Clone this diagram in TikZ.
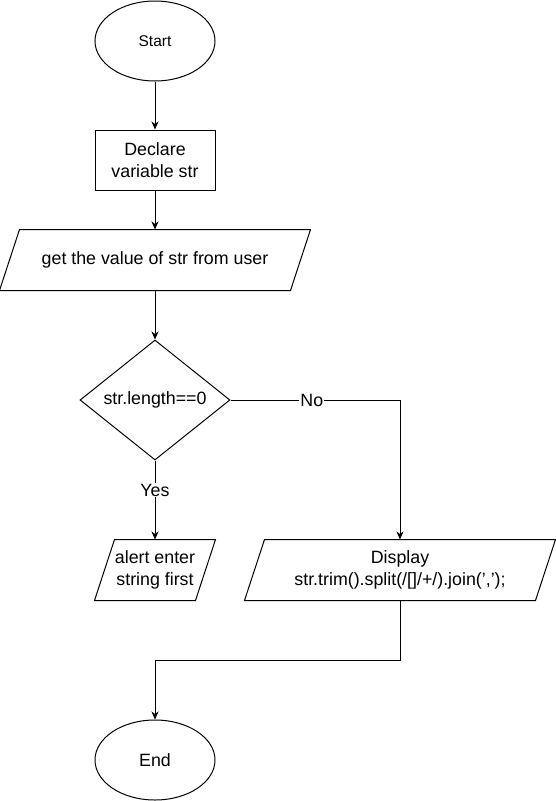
\documentclass[tikz,border=0pt]{standalone}
\usepackage{fontspec}
\setmainfont{Liberation Sans}
\usetikzlibrary{shapes.geometric,arrows.meta,calc}
\tikzset{
  base/.style={draw=black, line width=1pt, align=center, inner sep=0pt, font=\fontsize{17.8}{22.5}\selectfont},
  term/.style={base, ellipse, minimum width=120pt, minimum height=80pt},
  proc/.style={base, rectangle, minimum width=120pt, minimum height=60pt},
  dec/.style={base, diamond, aspect=1.25, minimum width=150pt, minimum height=120pt},
  io/.style={base, draw=none, rectangle},
  arr/.style={line width=1pt, -{Stealth[length=8pt,width=7pt,inset=2.5pt]}},
  lbl/.style={fill=white, inner sep=1pt, font=\fontsize{17.8}{22.5}\selectfont},
}
\newcommand{\iodraw}[2]{%
  \draw[line width=1pt] ($(#1.north west)+(#2,0)$) -- (#1.north east) -- ($(#1.south east)-(#2,0)$) -- (#1.south west) -- cycle;}
\begin{document}
\begin{tikzpicture}[x=1pt,y=-1pt]
\useasboundingbox (0,0) rectangle (556,801);
\node[term, font=\fontsize{15.5}{20}\selectfont] (start) at (155,41) {Start};
\node[proc] (decl) at (155,160) {Declare\\variable str};
\node[io, minimum width=310pt, minimum height=60pt] (get) at (155,260) {get the value of str from user};
\iodraw{get}{20}
\node[dec] (cond) at (155,400) {str.length==0};
\node[io, minimum width=120pt, minimum height=60pt] (alert) at (155,570) {alert enter\\string first};
\iodraw{alert}{20}
\node[io, minimum width=310pt, minimum height=60pt] (disp) at (400,570) {Display\\str.trim().split(/[]/+/).join(',');};
\iodraw{disp}{20}
\node[term] (end) at (155,760) {End};

\draw[arr] (start) -- (decl);
\draw[arr] (decl) -- (get);
\draw[arr] (get) -- (cond);
\draw[arr] (cond.south) -- node[lbl, pos=0.375] {Yes} (alert.north);
\draw[arr] (cond.east) -| node[lbl, pos=0.24] {No} (disp.north);
\draw[arr] (disp.south) -- ($(disp.south)+(0,60)$) -| (end.north);
\end{tikzpicture}
\end{document}
